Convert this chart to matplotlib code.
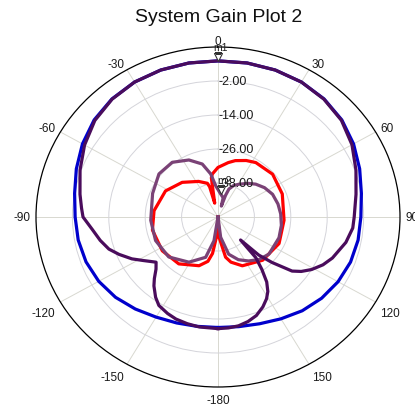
import numpy as np
import matplotlib
matplotlib.use("Agg")
import matplotlib.pyplot as plt

plt.rcParams["font.family"] = ["Liberation Sans", "DejaVu Sans"]

# angles in degrees (0 = top, clockwise positive), gain in dB
blue_theta = [-180, -170, -160, -150, -140, -130, -120, -110, -100, -90, -80, -70, -60, -50, -40, -30, -20, -10,
              0, 10, 20, 30, 40, 50, 60, 70, 80, 90, 100, 110, 120, 130, 140, 150, 160, 170, 180]
blue_gain = [-11.0, -10.8, -10.2, -9.2, -7.6, -5.9, -4.6, -3.7, -3.2, -2.9, -2.0, -0.3, 1.6, 3.3, 4.4, 5.0, 5.2, 5.2,
             5.1, 5.2, 5.2, 5.0, 4.4, 3.3, 1.6, -0.3, -2.0, -2.9, -3.1, -3.5, -4.3, -5.4, -6.8, -8.5, -9.9, -10.7, -11.0]

purple_theta = [-180, -171, -165, -159, -154, -148, -144, -139, -136, -132, -128, -122, -117.5, -112, -107.5, -102,
                -96, -90, -86, -80, -70, -60, -50, -40, -30, -20, -10, 0, 10, 20, 30, 40, 50, 60, 70, 80, 90, 95,
                102, 111, 116, 121, 125, 128, 132, 135, 137.5, 139, 142, 145, 148, 151, 155, 160, 165, 170, 175, 180]
purple_gain = [-10.6, -10.7, -11.0, -11.4, -12.1, -13.2, -15.0, -17.8, -19.8, -22.5, -24.1, -21.0, -18.0, -14.8,
               -12.3, -10.3, -8.3, -5.5, -4.9, -3.8, -1.6, 0.8, 3.0, 4.3, 5.0, 5.2, 5.2, 5.1, 5.2, 5.2, 5.0, 4.3,
               3.1, 1.0, -1.6, -3.8, -5.1, -5.4, -6.9, -9.6, -11.5, -14.0, -16.5, -19.0, -26.0, -31.0, -39.0,
               -31.0, -26.5, -22.0, -19.0, -17.0, -15.0, -13.0, -11.8, -11.0, -10.7, -10.6]

red_theta = [-180, -176, -172, -168, -160, -142, -123, -102, -84, -62, -44, -27, -16.4, -14.5, -12.5, -9, -7, 0,
             10, 16, 25, 33, 50, 69, 93, 115, 136, 155, 165, 170, 177, 180]
red_gain = [-50.0, -43.0, -37.0, -34.0, -31.7, -29.0, -28.1, -27.9, -28.8, -30.4, -33.0, -35.9, -37.6, -39.0,
            -45.0, -36.0, -34.7, -32.5, -30.5, -29.3, -28.0, -27.1, -26.5, -27.3, -28.2, -27.8, -28.8, -31.0,
            -33.5, -35.6, -42.8, -50.0]

mauve_theta = [-180, -171, -164, -149, -131, -112, -93, -69, -52, -38, -25.5, -15.5, -9, -4, 6, 14, 16, 18, 20,
               25, 31, 40, 47, 56, 66, 77, 87, 98, 110, 128, 138, 147, 156, 165, 173, 180]
mauve_gain = [-50.0, -41.5, -35.2, -31.4, -28.5, -27.8, -27.8, -26.9, -25.3, -25.5, -27.7, -30.6, -34.6, -38.9,
              -41.8, -43.0, -46.0, -42.0, -39.5, -37.7, -36.5, -34.5, -33.0, -31.5, -30.3, -29.7, -29.3, -28.9,
              -28.6, -28.7, -29.8, -31.5, -33.5, -36.4, -42.8, -50.0]

marker_names = ["m1", "m2"]
marker_theta = [0, 8]
marker_gain = [5.1, -41.8]

angle_ticks = [0, 30, 60, 90, 120, 150, 180, 210, 240, 270, 300, 330]
angle_labels = ["0", "30", "60", "90", "120", "150", "-180", "-150", "-120", "-90", "-60", "-30"]
ring_values = [-38, -26, -14, -2]
ring_labels = ["-38.00", "-26.00", "-14.00", "-2.00"]
r_min, r_max = -50, 10

fig = plt.figure(figsize=(4.15, 4.10), dpi=100)
fig.text(0.528, 0.958, "System Gain Plot 2", ha="center", va="center", fontsize=14, color="#111111")

ax = fig.add_axes([36 / 415, 22 / 410, 364 / 415, 340 / 410], projection="polar")
ax.set_aspect("auto")
ax.set_theta_zero_location("N")
ax.set_theta_direction(-1)
ax.set_rlim(r_min, r_max)

ax.set_xticks(np.deg2rad(angle_ticks))
ax.set_xticklabels([])
ax.set_xticks(np.deg2rad(np.arange(0, 360, 5)), minor=True)
ax.tick_params(axis="x", which="major", direction="in", length=6, width=0.8)
ax.tick_params(axis="x", which="minor", direction="in", length=3, width=0.8)
ax.set_yticks(ring_values)
ax.set_yticklabels([])
ax.xaxis.grid(True, color="#d8d8d0", lw=0.7)
ax.yaxis.grid(True, color="#d4d4da", lw=0.7)
ax.spines["polar"].set_linewidth(0.9)

# angle labels just outside the rim, anchored by the corner nearest the rim
for deg, lab in zip(angle_ticks, angle_labels):
    s, c = np.sin(np.deg2rad(deg)), np.cos(np.deg2rad(deg))
    ha = "center" if abs(s) < 0.1 else ("left" if s > 0 else "right")
    va = "center" if abs(c) < 0.1 else ("bottom" if c > 0 else "top")
    dy = 3.5 * c - 3.5 if c > 0.1 else 3.5 * c - 1.5 * (c < -0.1)
    ax.annotate(lab, xy=(np.deg2rad(deg), r_max), xytext=(4 * s, dy), textcoords="offset points",
                ha=ha, va=va, fontsize=8.5, color="#1a1a1a", annotation_clip=False)

for val, lab in zip(ring_values, ring_labels):
    ax.text(0, val, lab, ha="left", va="center", fontsize=9, color="#1a1a1a", zorder=5)

ax.plot(np.deg2rad(blue_theta), blue_gain, color="#0000cc", lw=2.3, zorder=3)
ax.plot(np.deg2rad(red_theta), red_gain, color="#ff0000", lw=2.3, zorder=3)
ax.plot(np.deg2rad(mauve_theta), mauve_gain, color="#7a4276", lw=2.3, zorder=3)
ax.plot(np.deg2rad(purple_theta), purple_gain, color="#4a0c5c", lw=2.3, zorder=3)

# marker triangles sit above the point, tip down
tri = [(-1, 2), (1, 2), (0, 0), (-1, 2)]
for name, t, g in zip(marker_names, marker_theta, marker_gain):
    ax.plot(np.deg2rad(t), g, marker=tri, ms=11.5, mfc="white", mec="#333333", mew=0.8, zorder=6)
    ax.annotate(name, xy=(np.deg2rad(t), g), xytext=(2, 10), textcoords="offset points",
                ha="center", va="center", fontsize=7.5, color="#222222", zorder=7)

fig.savefig("out.png", dpi=100)
